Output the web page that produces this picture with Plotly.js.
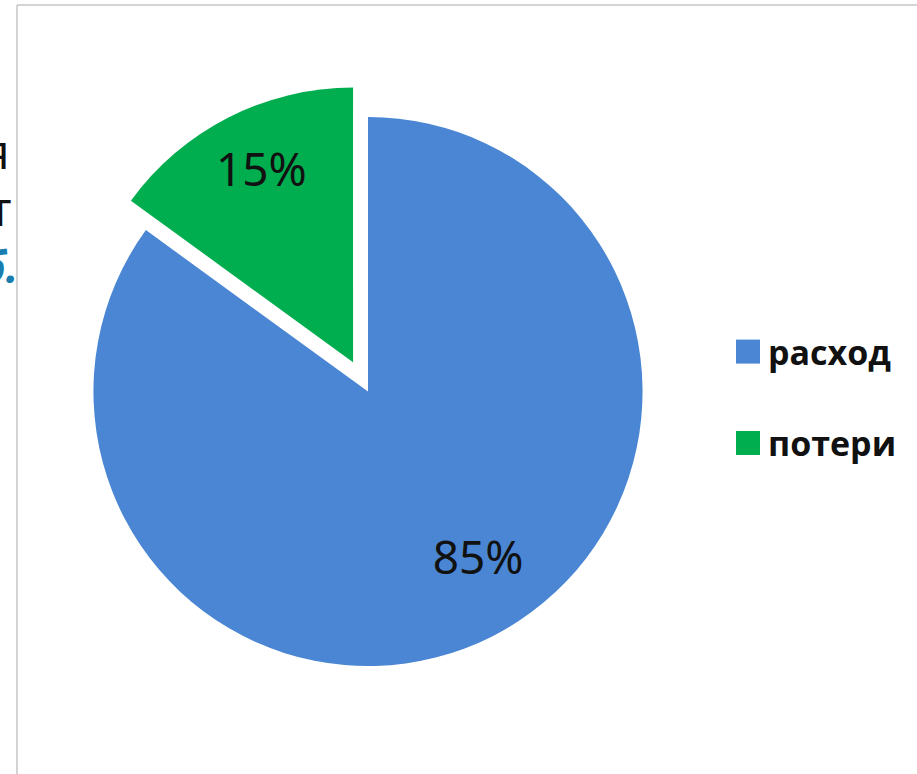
<!DOCTYPE html>
<html>
<head>
<meta charset="utf-8">
<script src="https://cdn.plot.ly/plotly-3.0.1.min.js"></script>
<style>html,body{margin:0;padding:0;background:#fff;}#chart{width:917px;height:774px;}</style>
</head>
<body>
<div id="chart"></div>
<script>
const labels = ["расход", "потери"];
const values = [85, 15];
const sliceColors = ["#4a86d3", "#00ad4f"];
const pulls = [0, 0.12];
const sideText = ["я", "т", "б."];

const W = 917, H = 774;
const px = x => x / W;
const py = y => 1 - y / H;
const nb = n => "\u00a0".repeat(n);

// label placement padding (blank space around the percent text)
const textTemplates = [
  "<span style='font-size:69px'>" + nb(1) + "</span><br>" + nb(8) + "%{percent:.0%}",
  "%{percent:.0%}" + nb(1) + "<br><span style='font-size:16px'>" + nb(1) + "</span>"
];

const trace = {
  type: "pie",
  labels: labels.map(l => l + "<br> "),
  values: values,
  sort: false,
  direction: "clockwise",
  rotation: 0,
  pull: pulls,
  marker: {colors: sliceColors, line: {color: "#ffffff", width: 0}},
  texttemplate: textTemplates,
  textposition: "inside",
  insidetextorientation: "horizontal",
  textfont: {family: "Noto Sans, Open Sans, sans-serif", size: 46, color: "#111111"},
  domain: {x: [px(60), px(676)], y: [py(699), py(84)]},
  hoverinfo: "none"
};

const layout = {
  width: W, height: H,
  margin: {l: 0, r: 0, t: 0, b: 0},
  paper_bgcolor: "#ffffff",
  showlegend: true,
  legend: {
    x: px(728), y: py(323), xanchor: "left", yanchor: "top",
    valign: "top",
    font: {family: "Open Sans, Liberation Sans, sans-serif", size: 34, color: "#111111", weight: "bold"},
    bgcolor: "rgba(0,0,0,0)"
  },
  shapes: [
    {type: "line", xref: "paper", yref: "paper", x0: px(17), x1: 1, y0: py(5), y1: py(5), line: {color: "#c6c6c6", width: 1.5}},
    {type: "line", xref: "paper", yref: "paper", x0: px(17), x1: px(17), y0: py(5), y1: 0, line: {color: "#c6c6c6", width: 1.5}}
  ],
  annotations: [
    {text: sideText[0], xref: "paper", yref: "paper", x: px(12), y: py(150), xanchor: "right", yanchor: "middle", showarrow: false,
     font: {family: "Open Sans, sans-serif", size: 48, color: "#111111"}},
    {text: sideText[1], xref: "paper", yref: "paper", x: px(14), y: py(207), xanchor: "right", yanchor: "middle", showarrow: false,
     font: {family: "Open Sans, sans-serif", size: 48, color: "#111111"}},
    {text: "<b><i>" + sideText[2] + "</i></b>", xref: "paper", yref: "paper", x: px(20), y: py(266), xanchor: "right", yanchor: "middle", showarrow: false,
     font: {family: "Open Sans, sans-serif", size: 44, color: "#1a7db0"}}
  ]
};

Plotly.newPlot("chart", [trace], layout, {displayModeBar: false, staticPlot: true}).then(() => {
  document.querySelectorAll("#chart .legendpie").forEach(p => p.setAttribute("d", "M12,12H-12V-12H12Z"));
});
</script>
</body>
</html>
